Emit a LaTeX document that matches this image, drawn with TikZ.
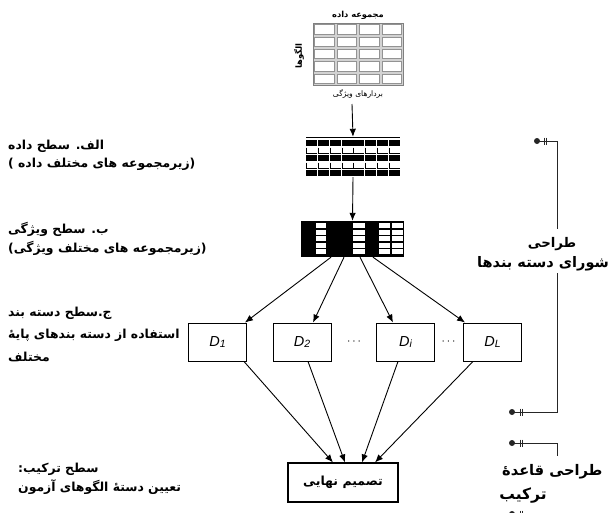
\documentclass[tikz,border=0pt]{standalone}
\usepackage{fontspec}
\setmainfont{Liberation Sans}
\usetikzlibrary{arrows.meta,calc}
\TeXXeTstate=1
\newfontfamily\fab[Script=Arabic]{DejaVu Sans Bold}
\newfontfamily\far[Script=Arabic]{DejaVu Sans}
\newcommand{\rtltext}[1]{\beginR #1\endR}
\begin{document}
\begin{tikzpicture}[x=1pt,y=-1pt,
  lab/.style={font=\fab\fontsize{12.4}{14}\selectfont, inner sep=0pt, anchor=west},
  rlab/.style={font=\fab\fontsize{13.3}{16}\selectfont, inner sep=0pt},
  dbox/.style={draw, line width=0.9pt, minimum width=58pt, minimum height=38pt, inner sep=0pt, font=\fontsize{14.5}{16}\selectfont\itshape},
  arr/.style={line width=0.9pt, -{Latex[length=8pt,width=6.5pt]}},
  brk/.style={line width=0.8pt, draw=black!85}
]
\useasboundingbox (0,0) rectangle (608,512);
\clip (0,0) rectangle (608,512);

% ---- top table
\node[font=\fab\fontsize{8.3}{10}\selectfont, inner sep=0pt] (tabt) at (358,15) {\rtltext{مجموعه داده}};
\node[draw=gray, fill=gray!35, minimum width=90pt, minimum height=62pt, inner sep=0pt] (tab) at (358,54) {};
\foreach \i in {0,...,3} \foreach \j in {0,...,4}
  \draw[gray!85, fill=white, line width=0.5pt] (313+\i*22.5+1.5, 23+\j*12.4+1.5) rectangle ++(19.5,9.4);
\node[font=\fab\fontsize{8.5}{10}\selectfont, inner sep=0pt, rotate=90] (tabl) at (299,56) {\rtltext{الگوها}};
\node[font=\far\fontsize{7.6}{9}\selectfont, inner sep=0pt] (tabb) at (358,94) {\rtltext{بردارهای ویژگی}};
\coordinate (t1) at (352,104);

% ---- grid 2
\node[minimum width=94pt, minimum height=40pt, inner sep=0pt] (g2) at (353,157) {};
\draw[line width=0.6pt] (306,137) -- (400,137);
\foreach \j in {0,2,4} \foreach \i in {0,...,7}
  \fill[black] (306+\i*11.75+0.4, 139.5+\j*7.5) rectangle ++(11,6.8);
\foreach \j in {1,3} \foreach \i in {0,...,7}
  \draw[line width=0.9pt] (306+\i*11.75+0.8, 139.5+\j*7.5+0.6) -- ++(0,6) -- ++(10.5,0);

% ---- grid 3
\node[fill=black, minimum width=103pt, minimum height=36pt, inner sep=0pt] (g3) at (352.5,239) {};
\foreach \x/\w/\cols in {316/10/{w,w,w,w,g}, 353/12/{g,g,w,g,w}, 379/11/{w,w,w,w,w}, 392/11/{w,w,w,w,w}} {
  \foreach \c [count=\k from 0] in \cols {
    \ifx\c g\def\cc{gray!60}\else\def\cc{white}\fi
    \fill[\cc] (\x, 223+\k*6.5) rectangle ++(\w,5);
  }
}

\draw[arr] (t1) -- (g2.north);
\draw[arr] (g2.south) -- (g3.north);

% ---- classifiers
\node[dbox] (D1) at (217.5,342) {D\raisebox{-1pt}{\fontsize{10.5}{12}\selectfont 1}};
\node[dbox] (D2) at (302,342) {D\raisebox{-1pt}{\fontsize{10.5}{12}\selectfont 2}};
\node[dbox] (Di) at (405.5,342) {D\raisebox{-1pt}{\fontsize{10.5}{12}\selectfont i}};
\node[dbox] (DL) at (492.5,342) {D\raisebox{-1pt}{\fontsize{10.5}{12}\selectfont L}};
\node[inner sep=0pt, font=\fontsize{13}{14}\selectfont] (dots1) at (354,342) {$\cdots$};
\node[inner sep=0pt, font=\fontsize{13}{14}\selectfont] (dots2) at (448.5,342) {$\cdots$};

\draw[arr] ($(g3.south)+(-21.5,0)$) -- ($(D1.north east)+(-2,0)$);
\draw[arr] ($(g3.south)+(-8.5,0)$) -- ($(D2.north)+(11,0)$);
\draw[arr] ($(g3.south)+(7.5,0)$) -- ($(Di.north)+(-12.5,0)$);
\draw[arr] ($(g3.south)+(20.5,0)$) -- ($(DL.north west)+(2,0)$);

% ---- final decision
\node[draw, line width=1.1pt, minimum width=110pt, minimum height=39pt, inner sep=0pt, font=\fab\fontsize{12.5}{14}\selectfont] (fin) at (343,482.5) {\rtltext{تصمیم نهایی}};
\draw[arr] ($(D1.south east)+(-3,0)$) -- ($(fin.north)+(-10,0)$);
\draw[arr] ($(D2.south)+(6,0)$) -- ($(fin.north)+(2,0)$);
\draw[arr] ($(Di.south)+(-7.5,0)$) -- ($(fin.north)+(19,0)$);
\draw[arr] ($(DL.south)+(-19.5,0)$) -- ($(fin.north)+(32,0)$);

% ---- left labels
\node[lab] (l1) at (8,146) {\rtltext{الف. سطح داده}};
\node[lab] (l2) at (8,164) {\rtltext{(زیرمجموعه های مختلف داده )}};
\node[lab] (l3) at (8,229) {\rtltext{ب. سطح ویژگی}};
\node[lab] (l4) at (8,248) {\rtltext{(زیرمجموعه های مختلف ویژگی)}};
\node[lab] (l5) at (8,313) {\rtltext{ج.سطح دسته بند}};
\node[lab] (l6) at (8,335) {\rtltext{استفاده از دسته بندهای پایهٔ}};
\node[lab] (l7) at (8,357) {\rtltext{مختلف}};
\node[lab] (l8) at (18,469) {\rtltext{سطح ترکیب:}};
\node[lab] (l9) at (18,487) {\rtltext{تعیین دستهٔ الگوهای آزمون}};

% ---- right bracket
\coordinate (b1) at (537,141);
\coordinate (b2) at (557,141);
\coordinate (b3) at (557,229);
\coordinate (b4) at (557,273);
\coordinate (b5) at (557,412);
\coordinate (b6) at (512,412);
\coordinate (b7) at (512,443);
\coordinate (b8) at (557,443);
\coordinate (b9) at (557,456);
\coordinate (b10) at (512,514);
\draw[brk] (b1) -- (b2) -- (b3);
\draw[brk] (b4) -- (b5) -- (b6);
\draw[brk] (b7) -- (b8) -- (b9);
\foreach \p/\t in {b1/7, b6/8, b7/8, b10/8} {
  \fill[black!85] (\p) circle (3pt);
  \draw[brk, line width=0.6pt] ($(\p)+(\t,-3.5)$) -- ++(0,7);
  \draw[brk, line width=0.6pt] ($(\p)+(\t+2.5,-3.5)$) -- ++(0,7);
}
\node[rlab] (r1) at (552,244) {\rtltext{طراحی}};
\node[rlab, font=\fab\fontsize{14.5}{16}\selectfont, anchor=west] (r2) at (477,264) {\rtltext{شورای دسته بندها}};
\node[rlab, font=\fab\fontsize{14.6}{18}\selectfont, anchor=west] (r3) at (502,472) {\rtltext{طراحی قاعدهٔ}};
\node[rlab, font=\fab\fontsize{15.5}{18}\selectfont] (r4) at (523,495) {\rtltext{ترکیب}};
\end{tikzpicture}
\end{document}
